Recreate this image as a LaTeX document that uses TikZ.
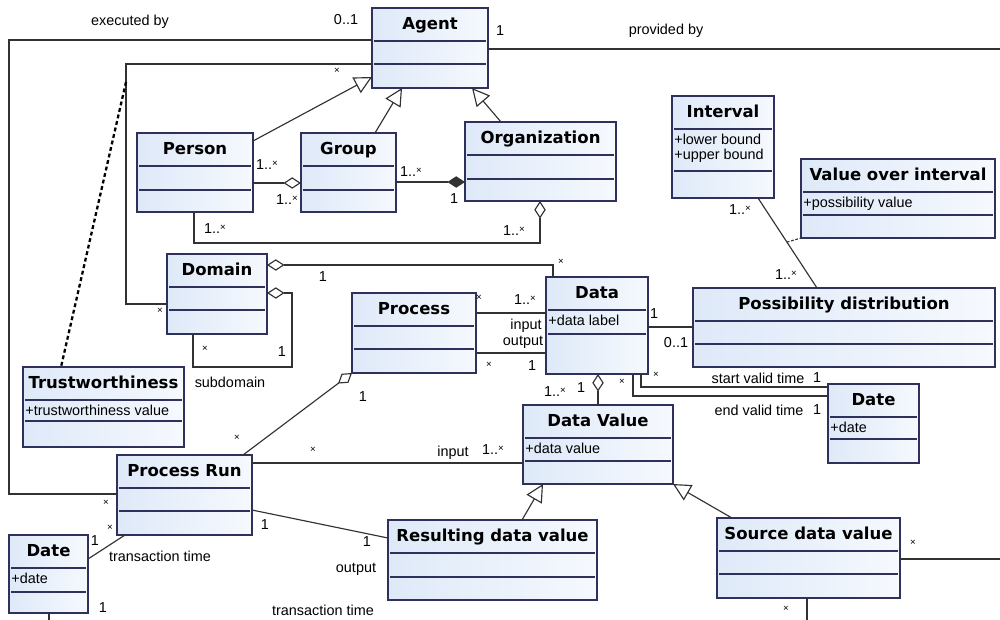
\documentclass[tikz,border=0pt]{standalone}
\usepackage{fontspec}
\setmainfont{Liberation Sans}
\newfontfamily\namefont{DejaVu Sans}
\usetikzlibrary{arrows.meta,calc}

\definecolor{boxborder}{RGB}{48,48,92}
\definecolor{boxleft}{RGB}{222,233,248}
\definecolor{boxright}{RGB}{246,249,254}
\definecolor{linegray}{RGB}{50,50,50}

\newcommand\many{{\fontsize{5.5}{6}\selectfont ×}}
\newcommand\onemany{1..\raisebox{0.5ex}{\many}}

\begin{document}
\begin{tikzpicture}
[x=0.02cm, y=-0.02cm,
  classbox/.style={draw=boxborder, line width=0.8pt, left color=boxleft,
    right color=boxright, anchor=north west, inner sep=0pt, outer sep=0pt},
  classname/.style={font=\namefont\bfseries\fontsize{9.4}{11}\selectfont,
    anchor=base, inner sep=0pt},
  classrule/.style={draw=boxborder, line width=0.7pt},
  attrtext/.style={font=\fontsize{8.2}{8.6}\selectfont, align=left,
    anchor=north west, inner sep=0pt},
  assoc/.style={draw=linegray, line width=0.65pt},
  gen/.style={assoc, -{Triangle[fill=white, length=10pt, width=10pt]}},
  aggr/.style={assoc, {Diamond[fill=white, length=10pt, width=6.5pt]}-},
  aggrend/.style={assoc, -{Diamond[fill=white, length=10pt, width=6.5pt]}},
  compend/.style={assoc, -{Diamond[length=10pt, width=6.5pt]}},
  assocclass/.style={draw=black, line width=1.3pt, dash pattern=on 2.2pt off 1.6pt},
  lbl/.style={font=\fontsize{8.2}{9}\selectfont, inner sep=0pt}]
\useasboundingbox[fill=white] (0,0) rectangle (1000,619);
%% classes
\foreach \id/\x/\y/\w/\h/\cname/\attr/\ah in {
  agent/372/8/116/80/Agent/{}/23,
  person/137/133/116/79/Person/{}/24,
  group/301/133/95/79/Group/{}/24,
  org/465/122/151/79/Organization/{}/24,
  interval/672/96/102/102/Interval/{+lower bound\\+upper bound}/42,
  voi/801/159/194/79/Value over interval/{+possibility value}/23,
  possd/693/288/302/79/Possibility distribution/{}/23,
  data/546/277/102/97/Data/{+data label}/24,
  process/352/293/124/80/Process/{}/23,
  domain/167/254/100/80/Domain/{}/23,
  trust/23/367/161/80/Trustworthiness/{+trustworthiness value}/21,
  prun/117/455/135/80/Process Run/{}/23,
  datel/9/535/79/78/Date/{+date}/24,
  dvalue/523/405/150/79/Data Value/{+data value}/23,
  result/388/520/209/80/Resulting data value/{}/24,
  source/717/518/183/80/Source data value/{}/23,
  dater/828/384/91/79/Date/{+date}/22}
{
  \node[classbox, minimum width=\w*0.02cm, minimum height=\h*0.02cm] (\id) at (\x,\y) {};
  \node[classname] at ($(\id.north)+(0,21)$) {\cname};
  \draw[classrule] ($(\id.north west)+(2,33)$) -- ($(\id.north east)+(-2,33)$);
  \draw[classrule] ($(\id.north west)+(2,33+\ah)$) -- ($(\id.north east)+(-2,33+\ah)$);
  \node[attrtext] at ($(\id.north west)+(2,38)$) {\attr};
}
%% generalizations
\draw[gen] ($(person.north east)+(0,8)$) -- ($(agent.north west)+(0,69)$);
\draw[gen] ($(group.north west)+(74,0)$) -- ($(agent.south west)+(30,0)$);
\draw[gen] ($(org.north west)+(36,0)$) -- ($(agent.south west)+(100,0)$);
\draw[gen] ($(result.north west)+(134,0)$) -- ($(dvalue.south west)+(20,0)$);
\draw[gen] ($(source.north west)+(15,0)$) -- (dvalue.south east);
%% aggregations and compositions
\draw[aggrend] ($(person.north east)+(0,50)$) -- ($(group.north west)+(0,50)$);
\draw[compend] ($(group.north east)+(0,49)$) -- ($(org.north west)+(0,60)$);
\draw[aggrend] ($(person.south west)+(57,0)$) -- ++(0,31) -| ($(org.south west)+(75,0)$);
\draw[aggr] ($(domain.north east)+(0,11)$) -| ($(data.north west)+(7,0)$);
\draw[aggr] ($(domain.north east)+(0,39)$) -- ++(25,0) -- ++(0,74)
  -| ($(domain.south west)+(26,0)$);
\draw[aggr] ($(data.south west)+(52,0)$) -- ($(dvalue.north west)+(75,0)$);
\draw[aggr] (process.south west) -- ($(prun.north west)+(126,0)$);
%% associations
\draw[assoc] ($(prun.north west)+(0,39)$) -- ++(-108,0) |- ($(agent.north west)+(0,32)$);
\draw[assoc] ($(domain.north west)+(0,50)$) -- ++(-41,0) |- ($(agent.north west)+(0,56)$);
\coordinate (trustlink) at ($(agent.north west)+(-246,74)$);
\draw[assocclass] (trustlink) -- ($(trust.north west)+(38,0)$);
\draw[assoc] ($(process.north east)+(0,20)$) -- ($(data.north west)+(0,36)$);
\draw[assoc] ($(process.north east)+(0,60)$) -- ($(data.north west)+(0,76)$);
\draw[assoc] ($(data.north east)+(0,50)$) -- ($(possd.north west)+(0,39)$);
\draw[assoc] ($(interval.south west)+(86,0)$) -- coordinate[pos=0.49] (ivmid)
  ($(possd.north west)+(124,0)$);
\draw[assoc, dash pattern=on 1.5pt off 1pt] (ivmid) -- (voi.south west);
\draw[assoc] ($(data.south east)+(-7,0)$) |- ($(dater.north west)+(0,3)$);
\draw[assoc] ($(data.south east)+(-15,0)$) |- ($(dater.north west)+(0,12)$);
\draw[assoc] ($(prun.north east)+(0,8)$) -- ($(dvalue.north west)+(0,58)$);
\draw[assoc] ($(prun.north east)+(0,55)$) -- ($(result.north west)+(0,18)$);
\draw[assoc] ($(datel.north east)+(0,24)$) -- ($(prun.south west)+(8,0)$);
\draw[assoc] ($(agent.north east)+(0,41)$) -- ++(512,0);
\draw[assoc] ($(source.north east)+(0,41)$) -- ++(100,0);
\draw[assoc] ($(source.south west)+(90,0)$) -- ++(0,25);
\draw[assoc] ($(datel.south west)+(40,0)$) -- ++(0,10);
%% role names and multiplicities
\foreach \xx/\yy/\txt in {130/22/executed by, 346/20/0..1, 500/31/1,
  666/31/provided by, 337/71/\many, 267/165/\onemany, 287/200/\onemany,
  411/172/\onemany, 454/199/1, 215/229/\onemany, 514/231/\onemany,
  323/277/1, 561/262/\many, 160/311/\many, 205/349/\many, 282/352/1,
  230/382/subdomain, 479/298/\many, 525/300/\onemany, 526/326/input,
  523/342/output, 489/365/\many, 532/366/1, 654/314/1, 676/343/0..1,
  740/210/\onemany, 786/275/\onemany, 656/375/\many, 622/382/\many,
  758/378/start valid time, 817/378/1, 759/410/end valid time, 817/410/1,
  555/392/\onemany, 581/388/1, 363/397/1, 237/438/\many, 313/450/\many,
  453/453/input, 493/450/\onemany, 106/503/\many, 110/528/\many,
  95/541/1, 160/556/transaction time, 265/525/1, 367/542/1,
  356/569/output, 323/610/transaction time, 103/608/1, 913/543/\many,
  786/609/\many}
{
  \node[lbl] at (\xx,\yy) {\txt};
}
\end{tikzpicture}
\end{document}
